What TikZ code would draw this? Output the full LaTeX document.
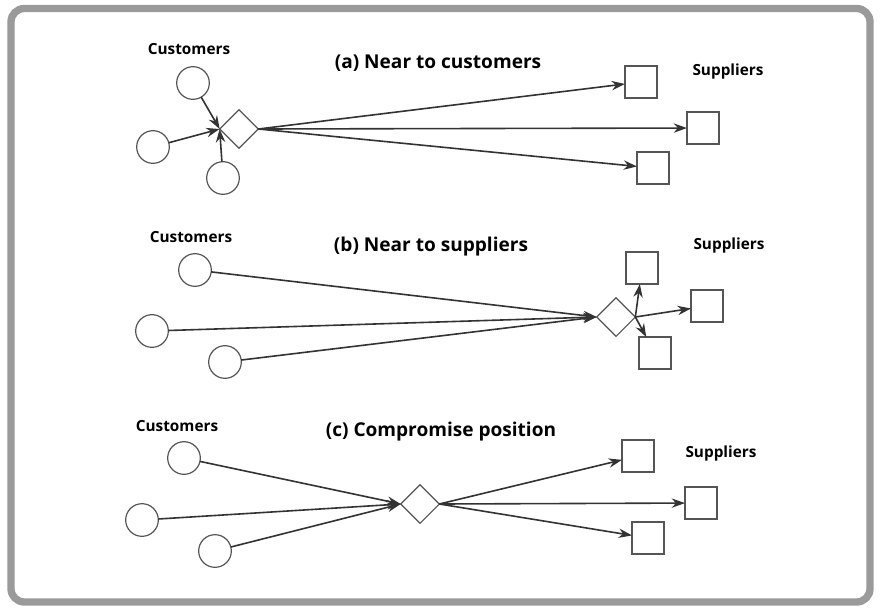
\documentclass[tikz,border=0pt]{standalone}
\usepackage{fontspec}
\setmainfont{Open Sans}
\usetikzlibrary{shapes.geometric,arrows.meta}
\definecolor{framegray}{HTML}{9A9A9A}
\definecolor{shapegray}{HTML}{555555}
\definecolor{arrowgray}{HTML}{333333}
\begin{document}
\begin{tikzpicture}[x=0.75pt,y=-0.75pt,
  cust/.style={circle,draw=shapegray,line width=0.9pt,minimum size=24.5pt,inner sep=0pt,outer sep=0pt},
  sup/.style={rectangle,draw=shapegray,line width=0.9pt,minimum size=24pt,inner sep=0pt,outer sep=0pt},
  hub/.style={diamond,draw=shapegray,line width=0.9pt,minimum size=29pt,inner sep=0pt,outer sep=0pt},
  flow/.style={draw=arrowgray,line width=1.2pt,-{Stealth[length=10pt,width=7pt]}},
  lab/.style={font=\fontsize{11.5}{13}\selectfont\bfseries},
  ttl/.style={font=\fontsize{14.3}{16}\selectfont\bfseries}]
\useasboundingbox (0,0) rectangle (881,611);
\draw[framegray,line width=5.5pt,rounded corners=10pt] (11,8.5) rectangle (870,602);

% (a)
\node[lab] (ca) at (189,49) {Customers};
\node[ttl] (ta) at (438,63) {(a) Near to customers};
\node[lab] (sa) at (728,72) {Suppliers};
\node[cust] (a1) at (193,83) {};
\node[cust] (a2) at (153,147) {};
\node[cust] (a3) at (223,178) {};
\node[hub] (ha) at (239,129) {};
\node[sup] (as1) at (641,82) {};
\node[sup] (as2) at (703,128) {};
\node[sup] (as3) at (653,168) {};
\draw[flow] (a1) -- (ha.west);
\draw[flow] (a2) -- (ha.west);
\draw[flow] (a3) -- (ha.west);
\draw[flow] (ha.east) -- (as1);
\draw[flow] (ha.east) -- (as2);
\draw[flow] (ha.east) -- (as3);

% (b)
\node[lab] (cb) at (191,237) {Customers};
\node[ttl] (tb) at (431,247) {(b) Near to suppliers};
\node[lab] (sb) at (729,246) {Suppliers};
\node[cust] (b1) at (195,270) {};
\node[cust] (b2) at (152,331) {};
\node[cust] (b3) at (225,362) {};
\node[hub] (hb) at (616,317) {};
\node[sup] (bs1) at (642,268) {};
\node[sup] (bs2) at (707,306) {};
\node[sup] (bs3) at (655,353) {};
\draw[flow] (b1) -- (hb.west);
\draw[flow] (b2) -- (hb.west);
\draw[flow] (b3) -- (hb.west);
\draw[flow] (hb.east) -- (bs1);
\draw[flow] (hb.east) -- (bs2);
\draw[flow] (hb.east) -- (bs3);

% (c)
\node[lab] (cc) at (177,426) {Customers};
\node[ttl] (tc) at (441,432) {(c) Compromise position};
\node[lab] (sc) at (721,454) {Suppliers};
\node[cust] (c1) at (184,458) {};
\node[cust] (c2) at (142,520) {};
\node[cust] (c3) at (215,551) {};
\node[hub] (hc) at (420,504) {};
\node[sup] (cs1) at (638,456) {};
\node[sup] (cs2) at (701,503) {};
\node[sup] (cs3) at (648,538) {};
\draw[flow] (c1) -- (hc.west);
\draw[flow] (c2) -- (hc.west);
\draw[flow] (c3) -- (hc.west);
\draw[flow] (hc.east) -- (cs1);
\draw[flow] (hc.east) -- (cs2);
\draw[flow] (hc.east) -- (cs3);
\end{tikzpicture}
\end{document}
